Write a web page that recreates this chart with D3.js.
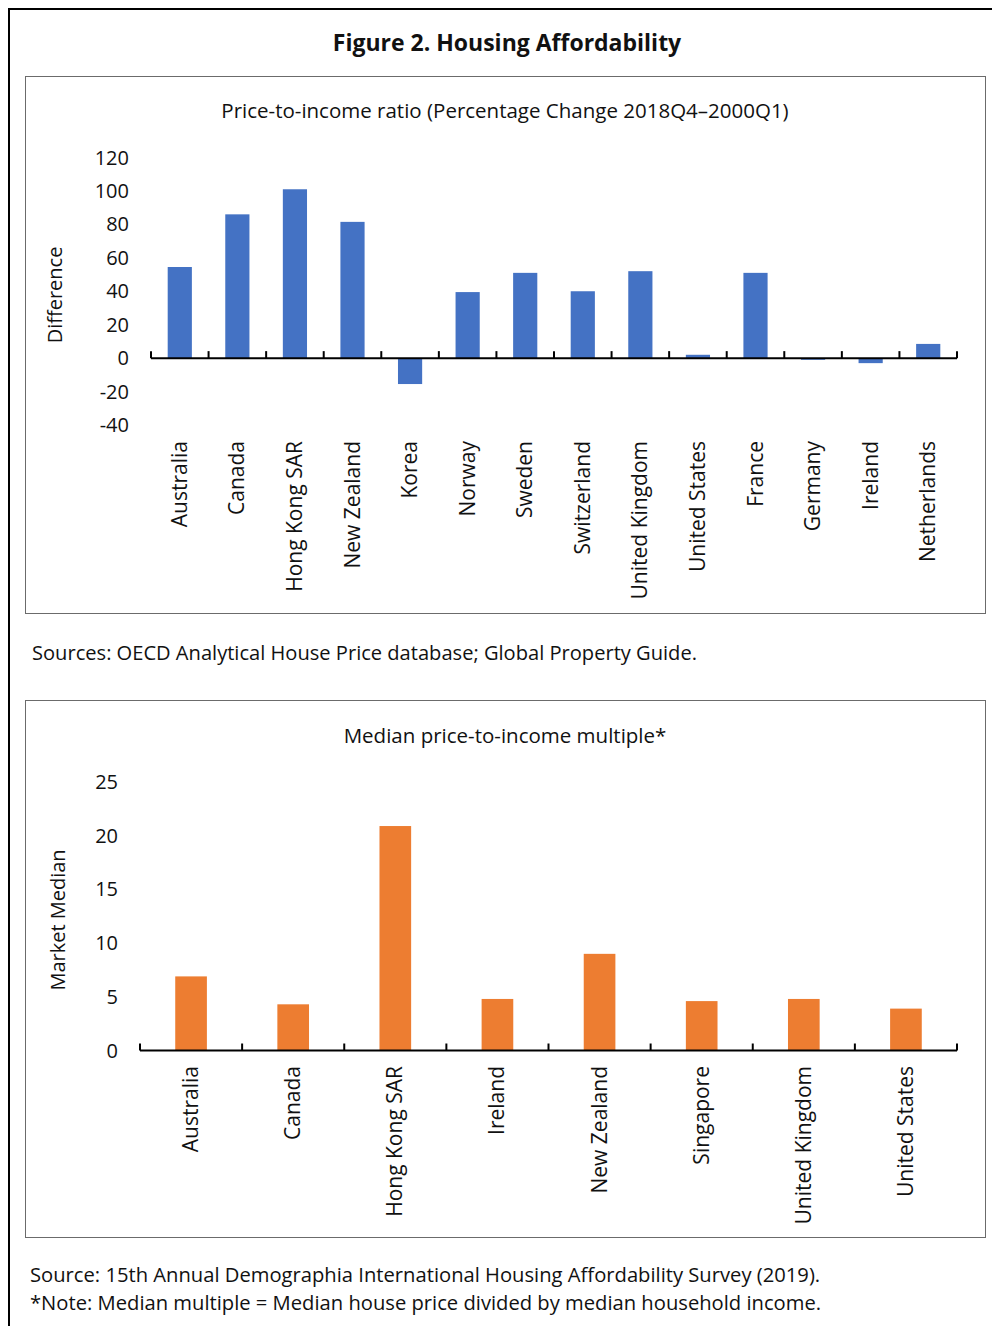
<!DOCTYPE html>
<html>
<head>
<meta charset="utf-8">
<script src="https://cdn.jsdelivr.net/npm/d3@7"></script>
<style>
  body { margin: 0; background: #fff; }
  svg text { font-family: "Open Sans", "Noto Sans", sans-serif; fill: #111; }
</style>
</head>
<body>
<div id="app"></div>
<script>
// chart 1: price-to-income ratio, % change 2018Q4-2000Q1
const countries1 = ['Australia', 'Canada', 'Hong Kong SAR', 'New Zealand', 'Korea', 'Norway', 'Sweden',
  'Switzerland', 'United Kingdom', 'United States', 'France', 'Germany', 'Ireland', 'Netherlands'];
const change1 = [54.5, 86, 101, 81.5, -15.5, 39.5, 51, 40, 52, 2, 51, -1, -3, 8.5];
const ticks1 = [-40, -20, 0, 20, 40, 60, 80, 100, 120];

// chart 2: median multiple
const countries2 = ['Australia', 'Canada', 'Hong Kong SAR', 'Ireland', 'New Zealand', 'Singapore',
  'United Kingdom', 'United States'];
const multiple2 = [6.9, 4.3, 20.9, 4.8, 9.0, 4.6, 4.8, 3.9];
const ticks2 = [0, 5, 10, 15, 20, 25];

const W = 992, H = 1326;

const svg = d3.select("#app").append("svg")
    .attr("width", W)
    .attr("height", H);

// outer frame
svg.append("path")
    .attr("d", `M9,${H} V9 H${W}`)
    .attr("fill", "none")
    .attr("stroke", "#000")
    .attr("stroke-width", 2);

svg.append("text")
    .attr("x", 507)
    .attr("y", 51)
    .attr("text-anchor", "middle")
    .style("font-size", "23px")
    .style("font-weight", "bold")
    .text("Figure 2. Housing Affordability");

function barChart(opt) {
  const g = svg.append("g");

  g.append("rect")
      .attr("x", opt.box[0] + 0.5)
      .attr("y", opt.box[1] + 0.5)
      .attr("width", opt.box[2] - opt.box[0])
      .attr("height", opt.box[3] - opt.box[1])
      .attr("fill", "none")
      .attr("stroke", "#6b6b6b");

  g.append("text")
      .attr("x", 505)
      .attr("y", opt.titleY)
      .attr("text-anchor", "middle")
      .style("font-size", "20.5px")
      .text(opt.title);

  const x = d3.scaleBand()
      .domain(opt.cats)
      .range(opt.xRange);

  const y = d3.scaleLinear()
      .domain(d3.extent(opt.ticks))
      .range(opt.yRange);

  // y tick labels (no axis line, Excel style)
  g.selectAll(".ytick")
      .data(opt.ticks)
    .enter().append("text")
      .attr("class", "ytick")
      .attr("x", opt.tickX)
      .attr("y", d => y(d))
      .attr("dy", "0.35em")
      .attr("text-anchor", "end")
      .style("font-size", "20px")
      .text(d => d);

  g.append("text")
      .attr("transform", `translate(${opt.labelX}, ${opt.labelY}) rotate(-90)`)
      .attr("text-anchor", "middle")
      .style("font-size", "20px")
      .text(opt.yLabel);

  // bars
  const bw = x.bandwidth() * opt.barRatio;
  g.selectAll(".bar")
      .data(opt.values)
    .enter().append("rect")
      .attr("class", "bar")
      .attr("x", (d, i) => x(opt.cats[i]) + (x.bandwidth() - bw) / 2)
      .attr("y", d => y(Math.max(0, d)))
      .attr("width", bw)
      .attr("height", d => Math.abs(y(d) - y(0)))
      .attr("fill", opt.color);

  // category axis at zero, ticks pointing up
  const axis = g.append("g")
      .attr("transform", `translate(0, ${y(0)})`)
      .call(d3.axisTop(x).tickSize(0).tickFormat(""));
  axis.select(".domain").remove();
  axis.append("line")
      .attr("x1", opt.xRange[0])
      .attr("x2", opt.xRange[1])
      .attr("stroke", "#000")
      .attr("stroke-width", 2);
  const bounds = opt.cats.map(c => x(c)).concat([opt.xRange[1]]);
  axis.selectAll(".btick")
      .data(bounds)
    .enter().append("line")
      .attr("class", "btick")
      .attr("x1", d => d)
      .attr("x2", d => d)
      .attr("y1", 0)
      .attr("y2", -7)
      .attr("stroke", "#000")
      .attr("stroke-width", 2);

  g.selectAll(".cat")
      .data(opt.cats)
    .enter().append("text")
      .attr("class", "cat")
      .attr("transform", d => `translate(${x(d) + x.bandwidth() / 2 + 7}, ${opt.catY}) rotate(-90)`)
      .attr("text-anchor", "end")
      .style("font-size", "21px")
      .text(d => d);
}

barChart({
  box: [25, 76, 985, 613],
  title: "Price-to-income ratio (Percentage Change 2018Q4\u20132000Q1)",
  titleY: 118,
  cats: countries1,
  values: change1,
  ticks: ticks1,
  xRange: [151, 957],
  yRange: [425, 157.5],
  tickX: 129,
  labelX: 62,
  labelY: 295,
  yLabel: "Difference",
  barRatio: 0.42,
  color: "#4472C4",
  catY: 441
});

svg.append("text")
    .attr("x", 32)
    .attr("y", 660)
    .style("font-size", "20.1px")
    .text("Sources: OECD Analytical House Price database; Global Property Guide.");

barChart({
  box: [25, 700, 985, 1237],
  title: "Median price-to-income multiple*",
  titleY: 743,
  cats: countries2,
  values: multiple2,
  ticks: ticks2,
  xRange: [140, 957],
  yRange: [1050.5, 782],
  tickX: 118,
  labelX: 65,
  labelY: 920,
  yLabel: "Market Median",
  barRatio: 0.31,
  color: "#ED7D31",
  catY: 1066
});

svg.append("text")
    .attr("x", 30)
    .attr("y", 1282)
    .style("font-size", "20.2px")
    .text("Source: 15th Annual Demographia International Housing Affordability Survey (2019).");

svg.append("text")
    .attr("x", 30)
    .attr("y", 1310)
    .style("font-size", "20.2px")
    .text("*Note: Median multiple = Median house price divided by median household income.");
</script>
</body>
</html>
